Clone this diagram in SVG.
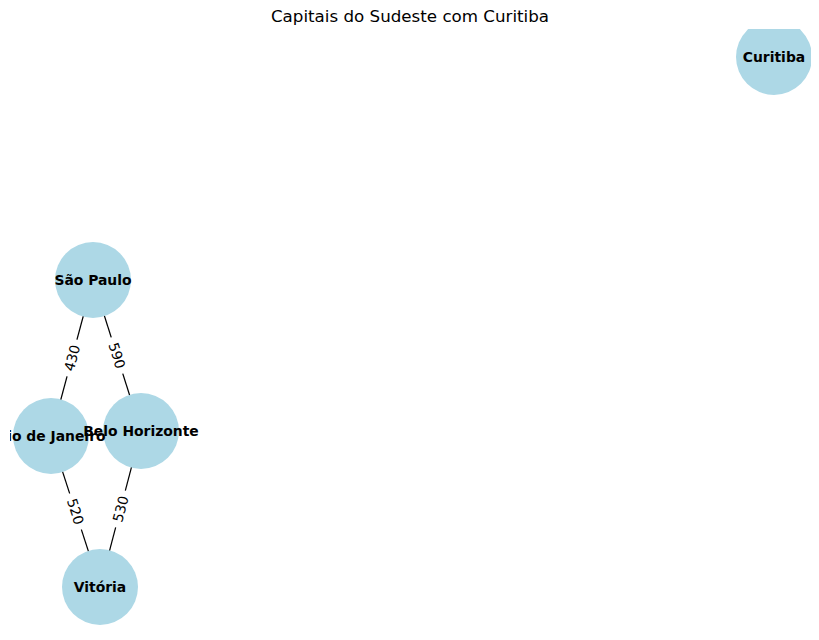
<svg xmlns="http://www.w3.org/2000/svg" width="819" height="640" viewBox="0 0 819 640">
<defs>
<clipPath id="ax"><rect x="10" y="29" width="801" height="605"/></clipPath>
<style>
.node{fill:#add8e6;}
.nl{font-family:"DejaVu Sans",sans-serif;font-weight:bold;font-size:13.9px;text-anchor:middle;dominant-baseline:central;fill:#000;}
.edge{stroke:#000;stroke-width:1.2;fill:none;}
.el{font-family:"DejaVu Sans",sans-serif;font-size:13.9px;text-anchor:middle;dominant-baseline:central;fill:#000;}
.bg{fill:#fff;}
.title{font-family:"DejaVu Sans",sans-serif;font-size:16.7px;text-anchor:middle;fill:#000;}
</style>
</defs>
<rect width="819" height="640" fill="#fff"/>
<text class="title" x="410" y="22">Capitais do Sudeste com Curitiba</text>
<g id="connectors" clip-path="url(#ax)">
<line class="edge" x1="93" y1="280" x2="51" y2="436"/>
<line class="edge" x1="93" y1="280" x2="141" y2="431"/>
<line class="edge" x1="51" y1="436" x2="100" y2="587"/>
<line class="edge" x1="141" y1="431" x2="100" y2="587"/>
<g transform="translate(72,358) rotate(-75)"><rect class="bg" x="-19" y="-9" width="38" height="18"/><text class="el" x="0" y="0">430</text></g>
<g transform="translate(117,355.5) rotate(72.4)"><rect class="bg" x="-19" y="-9" width="38" height="18"/><text class="el" x="0" y="0">590</text></g>
<g transform="translate(75.5,511.5) rotate(72)"><rect class="bg" x="-19" y="-9" width="38" height="18"/><text class="el" x="0" y="0">520</text></g>
<g transform="translate(120.5,509) rotate(-75)"><rect class="bg" x="-19" y="-9" width="38" height="18"/><text class="el" x="0" y="0">530</text></g>
</g>
<g clip-path="url(#ax)">
<g id="node-sao-paulo"><circle class="node" cx="93" cy="280" r="38"/><text class="nl" x="93" y="280">São Paulo</text></g>
<g id="node-rio"><circle class="node" cx="51" cy="436" r="38"/></g>
<g id="node-bh"><circle class="node" cx="141" cy="431" r="38"/></g>
<g id="node-vitoria"><circle class="node" cx="100" cy="587" r="38"/><text class="nl" x="100" y="587">Vitória</text></g>
<g id="node-curitiba"><circle class="node" cx="774" cy="57" r="38"/><text class="nl" x="774" y="57">Curitiba</text></g>
<text class="nl" x="51" y="436">Rio de Janeiro</text>
<text class="nl" x="141" y="431">Belo Horizonte</text>
</g>
</svg>
